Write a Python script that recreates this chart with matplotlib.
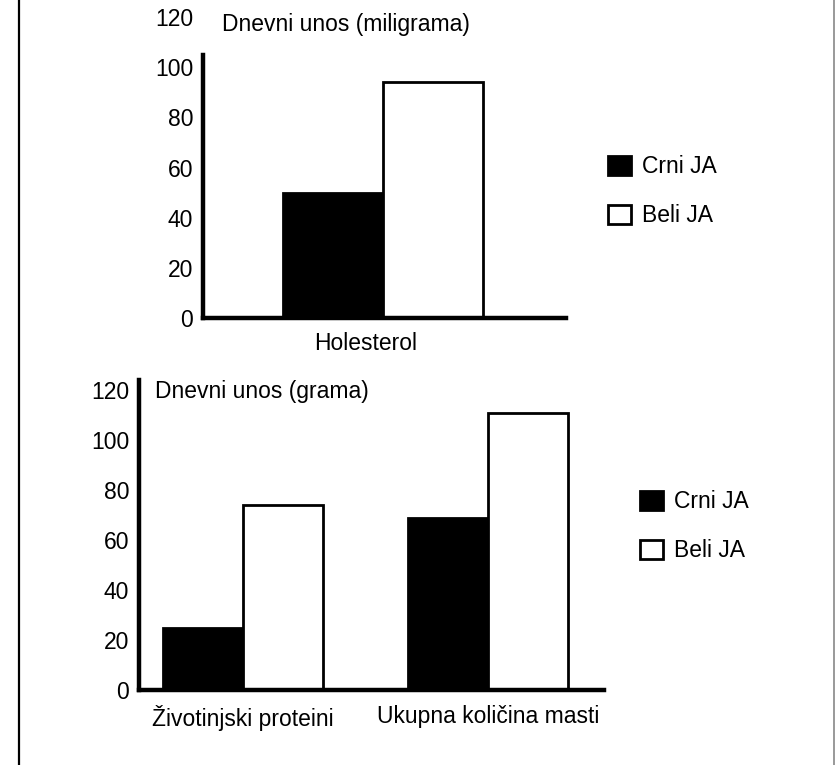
import matplotlib.pyplot as plt
from matplotlib.lines import Line2D
from matplotlib.patches import Patch

plt.rcParams['font.family'] = ['Liberation Sans', 'DejaVu Sans']

# data
series = ["Crni JA", "Beli JA"]
top_cats = ["Holesterol"]
top_crni = [50]
top_beli = [94]
bot_cats = ["Životinjski proteini", "Ukupna količina masti"]
bot_crni = [25, 69]
bot_beli = [74, 111]
yticks = [0, 20, 40, 60, 80, 100, 120]

fs = 16.5
fig = plt.figure(figsize=(8.36, 7.65), dpi=100)

# page border lines
fig.add_artist(Line2D([18.5/836, 18.5/836], [0, 1], color="black", lw=1.6))
fig.add_artist(Line2D([834/836, 834/836], [0, 1], color="#888888", lw=1.2))


def style_axis(ax, ymax, spine_top):
    for s in ["top", "right"]:
        ax.spines[s].set_visible(False)
    ax.spines["left"].set_linewidth(3.2)
    ax.spines["bottom"].set_linewidth(3.2)
    ax.spines["left"].set_bounds(0, spine_top)
    ax.set_ylim(0, ymax)
    ax.set_yticks(yticks)
    ax.tick_params(axis="y", length=0, pad=7, labelsize=fs)
    ax.tick_params(axis="x", length=0, pad=10, labelsize=fs)
    ax.set_facecolor("none")


def legend(ax, x, y):
    handles = [Patch(facecolor="black", edgecolor="black", lw=2),
               Patch(facecolor="white", edgecolor="black", lw=2)]
    ax.legend(handles, series, loc="upper left", bbox_to_anchor=(x, y),
              bbox_transform=fig.transFigure, frameon=False, fontsize=fs,
              handlelength=1.0, handleheight=0.9, handletextpad=0.5,
              labelspacing=1.15, borderaxespad=0, borderpad=0)


# top chart: cholesterol
ax1 = fig.add_axes([203/836, 1 - 318/765, 363/836, 301/765])
w1 = 0.4
x1 = list(range(len(top_cats)))
ax1.bar([p - w1/2 for p in x1], top_crni, width=w1, color="black",
        edgecolor="black", lw=2)
ax1.bar([p + w1/2 for p in x1], top_beli, width=w1, color="white",
        edgecolor="black", lw=2)
ax1.set_xlim(-0.72, 0.732)
ax1.set_xticks([p - 0.07 for p in x1])
ax1.set_xticklabels(top_cats)
style_axis(ax1, 120, 105)
fig.text(222/836, 1 - 24/765, "Dnevni unos (miligrama)", fontsize=fs,
         va="center", ha="left")
legend(ax1, 608/836, 1 - 155/765)

# bottom chart: proteins and fat
ax2 = fig.add_axes([139/836, 1 - 690/765, 465/836, 310/765])
w2 = 0.327
x2 = list(range(len(bot_cats)))
ax2.bar([p - w2/2 for p in x2], bot_crni, width=w2, color="black",
        edgecolor="black", lw=2)
ax2.bar([p + w2/2 for p in x2], bot_beli, width=w2, color="white",
        edgecolor="black", lw=2)
ax2.set_xlim(-0.424, 1.473)
ax2.set_xticks(x2)
ax2.set_xticklabels(bot_cats)
style_axis(ax2, 124, 124)
ax2.tick_params(axis="x", pad=11)
fig.text(155/836, 1 - 392/765, "Dnevni unos (grama)", fontsize=fs,
         va="center", ha="left")
legend(ax2, 640/836, 1 - 490/765)

fig.savefig("out.png", dpi=100, facecolor="white")
